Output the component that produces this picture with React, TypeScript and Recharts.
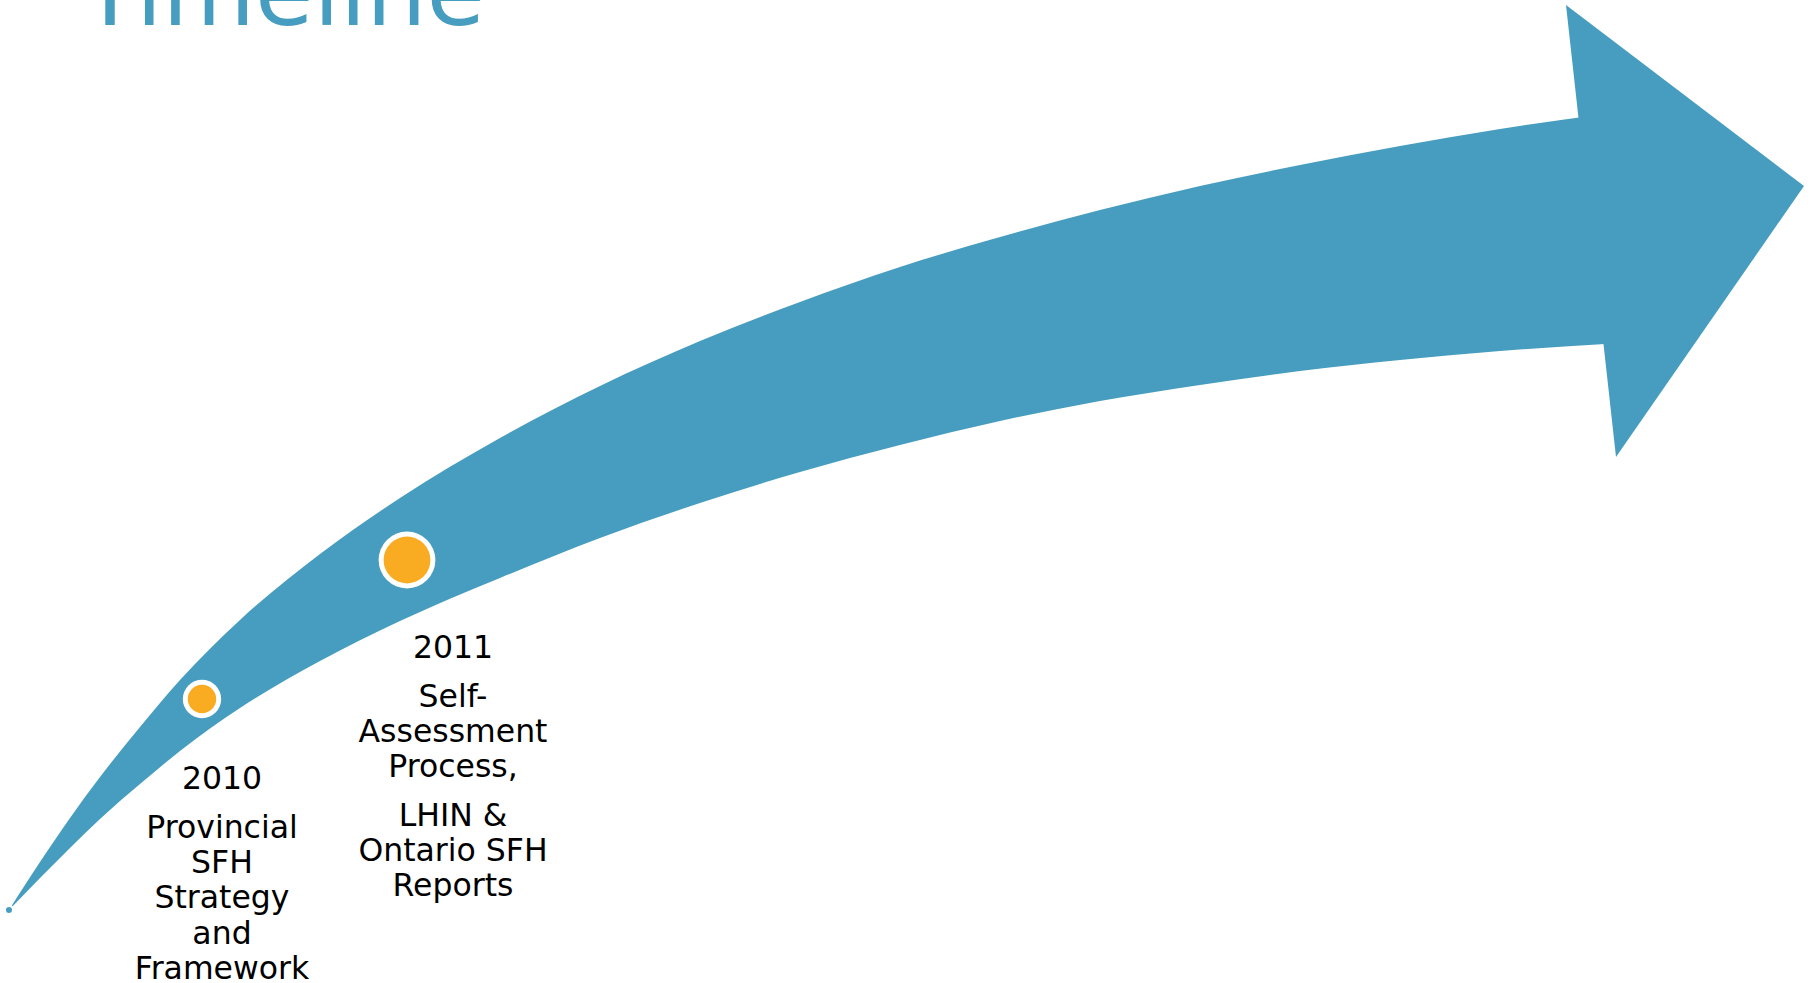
import { ComposedChart, Area, Scatter, XAxis, YAxis } from "recharts";

const W = 1820;
const H = 983;

// arrow body: x stations with the upper and lower edge (y counted from the top)
const bodyX = [9, 40, 70, 100, 140, 180, 240, 320, 400, 500, 600, 700, 800, 900, 1000, 1100, 1200, 1300, 1400, 1500, 1605];
const bodyTop = [910, 862, 818, 777, 727, 680, 620, 554, 498, 438, 386, 341, 302, 267, 237, 210, 186, 165, 146, 129, 114];
const bodyBottom = [910, 878, 848, 819, 784, 751, 708, 661, 621, 578, 538, 503, 472, 445, 421, 401, 385, 371, 360, 351, 344];

// arrow head: back corner, lower notch corner, tip
const headX = [1566, 1616, 1804];
const headTop = [5, 43, 186];
const headBottom = [5, 457, 186];

// milestones
const milestoneYears = ["2010", "2011"];
const milestoneText = [
  [["Provincial", "SFH", "Strategy", "and", "Framework"]],
  [
    ["Self-", "Assessment", "Process,"],
    ["LHIN &", "Ontario SFH", "Reports"],
  ],
];
const markerX = [202, 407];
const markerY = [699, 560];
const labelX = [222, 453];
const labelY = [789, 658];

const TITLE = "Timeline";

const BLUE = "#479DBF";
const ORANGE = "#F9AB21";
const FONT = "'DejaVu Sans', Verdana, sans-serif";

type Row = { x: number; body: (number | null)[]; head: (number | null)[] };

const rows: Row[] = [...bodyX, ...headX]
  .filter((v, i, a) => a.indexOf(v) === i)
  .sort((a, b) => a - b)
  .map((x) => {
    const bi = bodyX.indexOf(x);
    const hi = headX.indexOf(x);
    return {
      x,
      body: bi >= 0 ? [bodyBottom[bi], bodyTop[bi]] : [null, null],
      head: hi >= 0 ? [headBottom[hi], headTop[hi]] : [null, null],
    };
  });

const markers = markerX.map((x, i) => ({ x, y: markerY[i], i }));
const labels = labelX.map((x, i) => ({
  x,
  y: labelY[i],
  year: milestoneYears[i],
  paragraphs: milestoneText[i],
}));

const MARKER_OUTER = [19.2, 28.4];
const MARKER_INNER = [14.2, 23.4];

function Marker(props: any) {
  const { cx, cy, payload } = props;
  const i = payload.i;
  return (
    <g>
      <circle cx={cx} cy={cy} r={MARKER_OUTER[i]} fill="#fff" />
      <circle cx={cx} cy={cy} r={MARKER_INNER[i]} fill={ORANGE} />
    </g>
  );
}

function MilestoneLabel(props: any) {
  const { cx, cy, payload } = props;
  const lines: { t: string; y: number }[] = [];
  let dy = 49;
  payload.paragraphs.forEach((para: string[], pi: number) => {
    if (pi > 0) dy += 13;
    para.forEach((t) => {
      lines.push({ t, y: cy + dy });
      dy += 35.2;
    });
  });
  return (
    <g fontFamily={FONT} fontSize={31.5} fill="#000" textAnchor="middle">
      <text x={cx} y={cy}>
        {payload.year}
      </text>
      {lines.map((l, k) => (
        <text key={k} x={cx} y={l.y}>
          {l.t}
        </text>
      ))}
    </g>
  );
}

export default function App() {
  return (
    <div style={{ position: "fixed", left: 0, top: 0, width: W, height: H, background: "#fff" }}>
      <ComposedChart
        width={W}
        height={H}
        data={rows}
        margin={{ top: 0, right: 0, bottom: 0, left: 0 }}
      >
        <XAxis dataKey="x" type="number" domain={[0, W]} allowDataOverflow hide />
        <YAxis dataKey="y" type="number" domain={[0, H]} reversed allowDataOverflow hide />
        <Area
          dataKey={(d: Row) => d.body}
          type="monotone"
          fill={BLUE}
          fillOpacity={1}
          stroke="none"
          connectNulls
          isAnimationActive={false}
        />
        <Area
          dataKey={(d: Row) => d.head}
          type="linear"
          fill={BLUE}
          fillOpacity={1}
          stroke="none"
          connectNulls
          isAnimationActive={false}
        />
        <Scatter data={markers} shape={Marker} isAnimationActive={false} />
        <Scatter data={labels} shape={MilestoneLabel} isAnimationActive={false} />
      </ComposedChart>
      <svg
        width={W}
        height={H}
        style={{ position: "absolute", left: 0, top: 0, pointerEvents: "none" }}
      >
        <text x={81} y={25} fontFamily={FONT} fontSize={95} fill={BLUE}>
          {TITLE}
        </text>
      </svg>
    </div>
  );
}
